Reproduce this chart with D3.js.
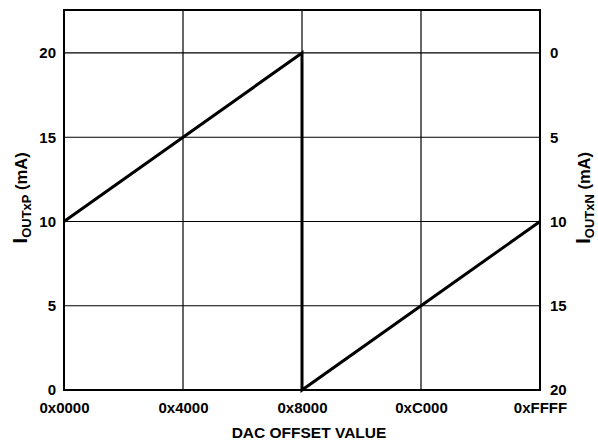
<!DOCTYPE html>
<html>
<head>
<meta charset="utf-8">
<script src="https://cdn.jsdelivr.net/npm/d3@7"></script>
<style>
  body { margin: 0; background: #fff; }
  text { font-family: Arial, "Liberation Sans", Helvetica, sans-serif; font-weight: bold; fill: #000; }
</style>
</head>
<body>
<div id="chart"></div>
<script>
// dac code vs output current
var codes = [0x0000, 0x8000, 0x8000, 0xFFFF];
var ioutP = [10, 20, 0, 10];

var xTicks = [0x0000, 0x4000, 0x8000, 0xC000, 0xFFFF];
var xTickLabels = ["0x0000", "0x4000", "0x8000", "0xC000", "0xFFFF"];
var leftTicks = [0, 5, 10, 15, 20];
var rightTicks = [0, 5, 10, 15, 20];

(function(){
  var width = 598,
    height = 443;
  var margin = {top: 10, right: 58, bottom: 53, left: 64};
  var w = width - margin.left - margin.right,
    h = height - margin.top - margin.bottom;

  var svg = d3.select("#chart")
    .append("svg")
    .attr("width", width)
    .attr("height", height)
    .append("g")
    .attr("transform", "translate(" + margin.left + "," + margin.top + ")");

  var x = d3.scaleLinear().domain([0, 0xFFFF]).range([0, w]);
  var y = d3.scaleLinear().domain([0, 22.55]).range([h, 0]);
  // right axis runs the other way
  var yR = d3.scaleLinear().domain([20, 20 - 22.55]).range([h, 0]);

  // grid
  svg.selectAll(".vgrid")
    .data(xTicks.slice(1, -1))
    .enter().append("line")
    .attr("x1", function(d){ return x(d); })
    .attr("x2", function(d){ return x(d); })
    .attr("y1", 0).attr("y2", h)
    .attr("stroke", "#000").attr("stroke-width", 1.2);

  svg.selectAll(".hgrid")
    .data(leftTicks.slice(1))
    .enter().append("line")
    .attr("x1", 0).attr("x2", w)
    .attr("y1", function(d){ return y(d); })
    .attr("y2", function(d){ return y(d); })
    .attr("stroke", "#000").attr("stroke-width", 1.2);

  // frame
  svg.append("rect")
    .attr("width", w).attr("height", h)
    .attr("fill", "none").attr("stroke", "#000").attr("stroke-width", 2);

  var bottomAxis = d3.axisBottom(x).tickValues(xTicks)
    .tickFormat(function(d, i){ return xTickLabels[i]; })
    .tickSize(0).tickPadding(12);
  var leftAxis = d3.axisLeft(y).tickValues(leftTicks).tickSize(0).tickPadding(8);
  var rightAxis = d3.axisRight(yR).tickValues(rightTicks).tickSize(0).tickPadding(10);

  [
    svg.append("g").attr("transform", "translate(0," + h + ")").call(bottomAxis),
    svg.append("g").call(leftAxis),
    svg.append("g").attr("transform", "translate(" + w + ",0)").call(rightAxis)
  ].forEach(function(g){
    g.select(".domain").remove();
    g.selectAll("text").attr("font-size", 15).attr("font-family", null).attr("fill", "#000");
  });

  // the sawtooth
  var line = d3.line()
    .x(function(d, i){ return x(codes[i]); })
    .y(function(d){ return y(d); });

  svg.append("path")
    .datum(ioutP)
    .attr("d", line)
    .attr("fill", "none")
    .attr("stroke", "#000")
    .attr("stroke-width", 3);

  svg.append("text")
    .attr("x", w / 2 + 7)
    .attr("y", h + 48)
    .attr("text-anchor", "middle")
    .attr("font-size", 15.5)
    .text("DAC OFFSET VALUE");

  function yTitle(tx, sub){
    var t = svg.append("text")
      .attr("transform", "translate(" + tx + "," + (h / 2 - 2) + ") rotate(-90)")
      .attr("text-anchor", "middle")
      .attr("font-size", 16.5);
    t.append("tspan").attr("font-size", 21).text("I");
    t.append("tspan").attr("font-size", 13).attr("dy", 4).text(sub);
    t.append("tspan").attr("dy", -4).text(" (mA)");
  }
  yTitle(-37, "OUTxP");
  yTitle(w + 50, "OUTxN");
})();
</script>
</body>
</html>
